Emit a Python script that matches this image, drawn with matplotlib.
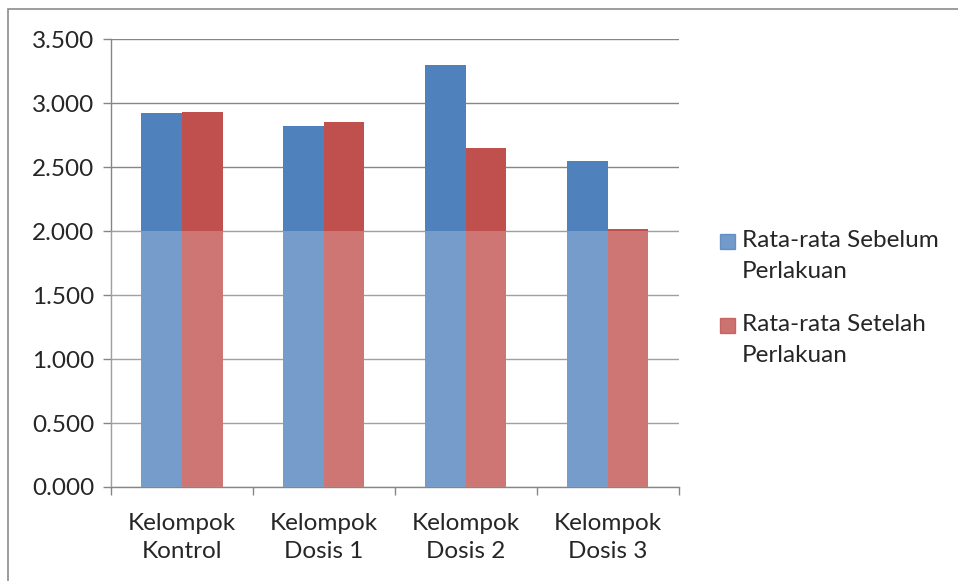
import matplotlib.pyplot as plt
from matplotlib.patches import Rectangle
from matplotlib.ticker import FuncFormatter, MultipleLocator
import numpy as np

categories = ["Kelompok\nKontrol", "Kelompok\nDosis 1", "Kelompok\nDosis 2", "Kelompok\nDosis 3"]
series_names = ["Rata-rata Sebelum\nPerlakuan", "Rata-rata Setelah\nPerlakuan"]
sebelum = [2.92, 2.82, 3.30, 2.55]
setelah = [2.935, 2.85, 2.65, 2.02]
colors = ["#4F81BD", "#C0504D"]

plt.rcParams["font.family"] = ["Lato", "DejaVu Sans"]
txt_color = "#262626"

fig = plt.figure(figsize=(9.58, 5.81), dpi=100)
ax = fig.add_axes([0.1159, 0.1618, 0.7083 - 0.1159, 0.9324 - 0.1618])

x = np.arange(len(categories))
w = 1 / 3.5
for i, vals in enumerate([sebelum, setelah]):
    ax.bar(x + (i - 0.5) * w, vals, width=w, color=colors[i], zorder=2)

# faded lower part (watermark)
ax.axhspan(0, 2.0, color="white", alpha=0.22, zorder=3, lw=0)

ax.set_ylim(0, 3.5)
ax.set_xlim(-0.5, len(categories) - 0.5)
ax.yaxis.set_major_locator(MultipleLocator(0.5))
ax.yaxis.set_major_formatter(FuncFormatter(lambda v, p: f"{v:.3f}"))
ax.grid(axis="y", color="#868686", lw=1.0, zorder=1)

ax.set_xticks(x)
ax.set_xticklabels(categories, fontsize=17.5, color=txt_color, linespacing=1.4)
ax.set_xticks(np.arange(-0.5, len(categories)), minor=True)
ax.tick_params(axis="x", which="major", length=0, pad=19)
ax.tick_params(axis="x", which="minor", length=6, color="#868686", width=1)
ax.tick_params(axis="y", length=6, color="#868686", width=1, labelsize=17.5,
               labelcolor=txt_color, pad=6)

for s in ["top", "right"]:
    ax.spines[s].set_visible(False)
for s in ["left", "bottom"]:
    ax.spines[s].set_color("#868686")
    ax.spines[s].set_linewidth(1)

# legend on the right
leg_x = 720 / 958
leg_y = [1 - 242 / 581, 1 - 326 / 581]
for i, name in enumerate(series_names):
    fig.patches.append(Rectangle((leg_x, leg_y[i] - 7 / 581), 15 / 958, 15 / 581,
                                 transform=fig.transFigure, color=colors[i], alpha=0.8))
    fig.text(leg_x + 22 / 958, leg_y[i] + 12 / 581, name, fontsize=17.5, color=txt_color,
             va="top", ha="left", linespacing=1.6)

# chart border
fig.patches.append(Rectangle((8 / 958, -0.1), 1.2, 1.1 - 9 / 581, transform=fig.transFigure,
                             fill=False, edgecolor="#8c8c8c", lw=1.2))

fig.savefig("out.png", dpi=100)
